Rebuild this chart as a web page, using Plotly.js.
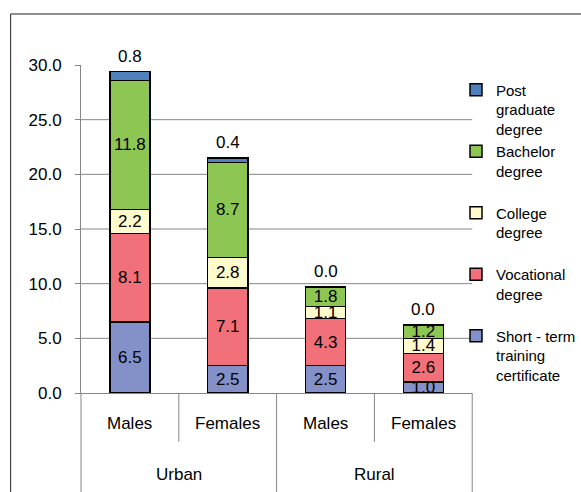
<!DOCTYPE html>
<html>
<head>
<meta charset="utf-8">
<script src="https://cdn.plot.ly/plotly-3.0.1.min.js"></script>
<style>
  html, body { margin: 0; padding: 0; background: #fff; }
  #chart { width: 581px; height: 492px; }
</style>
</head>
<body>
<div id="chart"></div>
<script>
// ---- data ----
const groups = ['Urban', 'Urban', 'Rural', 'Rural'];
const genders = ['Males', 'Females', 'Males', 'Females'];
const categories = ['Urban Males', 'Urban Females', 'Rural Males', 'Rural Females'];

const seriesNames = [
  'Short - term<br>training<br>certificate',
  'Vocational<br>degree<br>\u00a0',
  'College<br>degree<br>\u00a0',
  'Bachelor<br>degree<br>\u00a0',
  'Post<br>graduate<br>degree'
];
const shortTerm   = [6.5, 2.5, 2.5, 1.0];
const vocational  = [8.1, 7.1, 4.3, 2.6];
const college     = [2.2, 2.8, 1.1, 1.4];
const bachelor    = [11.8, 8.7, 1.8, 1.2];
const postGrad    = [0.8, 0.4, 0.0, 0.0];

const yTicks = [0, 5, 10, 15, 20, 25, 30];
const gridVals = [5, 10, 15, 20, 25];

// ---- style ----
const colors = ['#8490C8', '#F2707A', '#FFFBCC', '#8EC653', '#4F81BD'];
const FONT = 'Liberation Sans, Arial, sans-serif';
const GRID = '#868686';
const FS = 17;

// layout geometry: paper box spans 81..581 px, x domain covers 392 px of it
const ML = 81, MR = 0, BOXW = 581 - ML - MR;
const DOM = 392 / BOXW;

const seriesValues = [shortTerm, vocational, college, bachelor, postGrad];

const traces = seriesValues.map((vals, i) => ({
  type: 'bar',
  name: seriesNames[i],
  x: categories,
  y: vals,
  marker: { color: colors[i], line: { color: '#000', width: 1.5 } },
  texttemplate: i === 4 ? '' : '%{y:.1f}',
  textposition: i === 4 ? 'none' : 'inside',
  insidetextanchor: 'middle',
  constraintext: 'none',
  textangle: 0,
  textfont: { family: FONT, size: FS, color: '#000' },
  hoverinfo: 'skip'
}));

const totals = categories.map((c, k) => seriesValues.reduce((s, v) => s + v[k], 0));

const annotations = [];
// top labels (post graduate values)
categories.forEach((c, k) => {
  annotations.push({
    x: k, y: totals[k], xref: 'x', yref: 'y',
    text: postGrad[k].toFixed(1), showarrow: false,
    yanchor: 'bottom', yshift: 4,
    font: { family: FONT, size: FS, color: '#000' }
  });
});
// inner category labels
genders.forEach((g, k) => {
  annotations.push({
    x: k, y: -0.0945, xref: 'x', yref: 'paper',
    text: g, showarrow: false, yanchor: 'middle',
    font: { family: FONT, size: FS, color: '#000' }
  });
});
// outer group labels
const uniqueGroups = [...new Set(groups)];
uniqueGroups.forEach(gname => {
  const idx = groups.map((g, k) => g === gname ? k : -1).filter(k => k >= 0);
  const mid = (idx[0] + idx[idx.length - 1]) / 2;
  annotations.push({
    x: mid, y: -0.247, xref: 'x', yref: 'paper',
    text: gname, showarrow: false, yanchor: 'middle',
    font: { family: FONT, size: FS, color: '#000' }
  });
});

const shapes = [];
// horizontal gridlines
gridVals.forEach(v => shapes.push({
  type: 'line', xref: 'paper', yref: 'y', x0: 0, x1: DOM, y0: v, y1: v,
  line: { color: GRID, width: 1 }, layer: 'below'
}));
// category separators below axis
const n = categories.length;
for (let k = 0; k <= n; k++) {
  const isGroupEdge = k === 0 || k === n || groups[k] !== groups[k - 1];
  shapes.push({
    type: 'line', xref: 'paper', yref: 'paper',
    x0: DOM * k / n, x1: DOM * k / n, y0: 0, y1: isGroupEdge ? -0.4 : -0.149,
    line: { color: GRID, width: 1 }
  });
}
// outer chart border (left and top)
const bx = (10.5 - ML) / BOXW;
shapes.push({ type: 'line', xref: 'paper', yref: 'paper', x0: bx, x1: bx, y0: 1.1555, y1: -0.4,
  line: { color: '#222', width: 1 } });
shapes.push({ type: 'line', xref: 'paper', yref: 'paper', x0: bx, x1: 1.2, y0: 1.1555, y1: 1.1555,
  line: { color: '#222', width: 1 } });

const layout = {
  width: 581, height: 492,
  margin: { l: ML, r: MR, t: 65, b: 99 },
  paper_bgcolor: '#fff', plot_bgcolor: '#fff',
  font: { family: FONT, size: FS, color: '#000' },
  barmode: 'stack',
  bargap: 0.59,
  showlegend: true,
  legend: {
    x: (457 - ML) / BOXW, xanchor: 'left', y: 0.974, yanchor: 'top',
    traceorder: 'reversed', valign: 'top',
    font: { family: FONT, size: 15, color: '#000' },
    itemwidth: 30, tracegroupgap: 0, bgcolor: 'rgba(0,0,0,0)'
  },
  xaxis: {
    type: 'category', range: [-0.5, n - 0.5], domain: [0, DOM],
    showticklabels: false, ticks: '', showgrid: false,
    showline: true, linecolor: GRID, linewidth: 1, zeroline: false, fixedrange: true
  },
  yaxis: {
    range: [0, 30], tickvals: yTicks, tickformat: '.1f',
    ticks: 'outside', ticklen: 5, tickcolor: GRID, ticklabelstandoff: 10,
    showgrid: false, showline: true, linecolor: GRID, linewidth: 1, zeroline: false,
    tickfont: { family: FONT, size: FS, color: '#000' }, fixedrange: true
  },
  annotations: annotations,
  shapes: shapes
};

Plotly.newPlot('chart', traces, layout, { displayModeBar: false, staticPlot: true });
</script>
</body>
</html>
